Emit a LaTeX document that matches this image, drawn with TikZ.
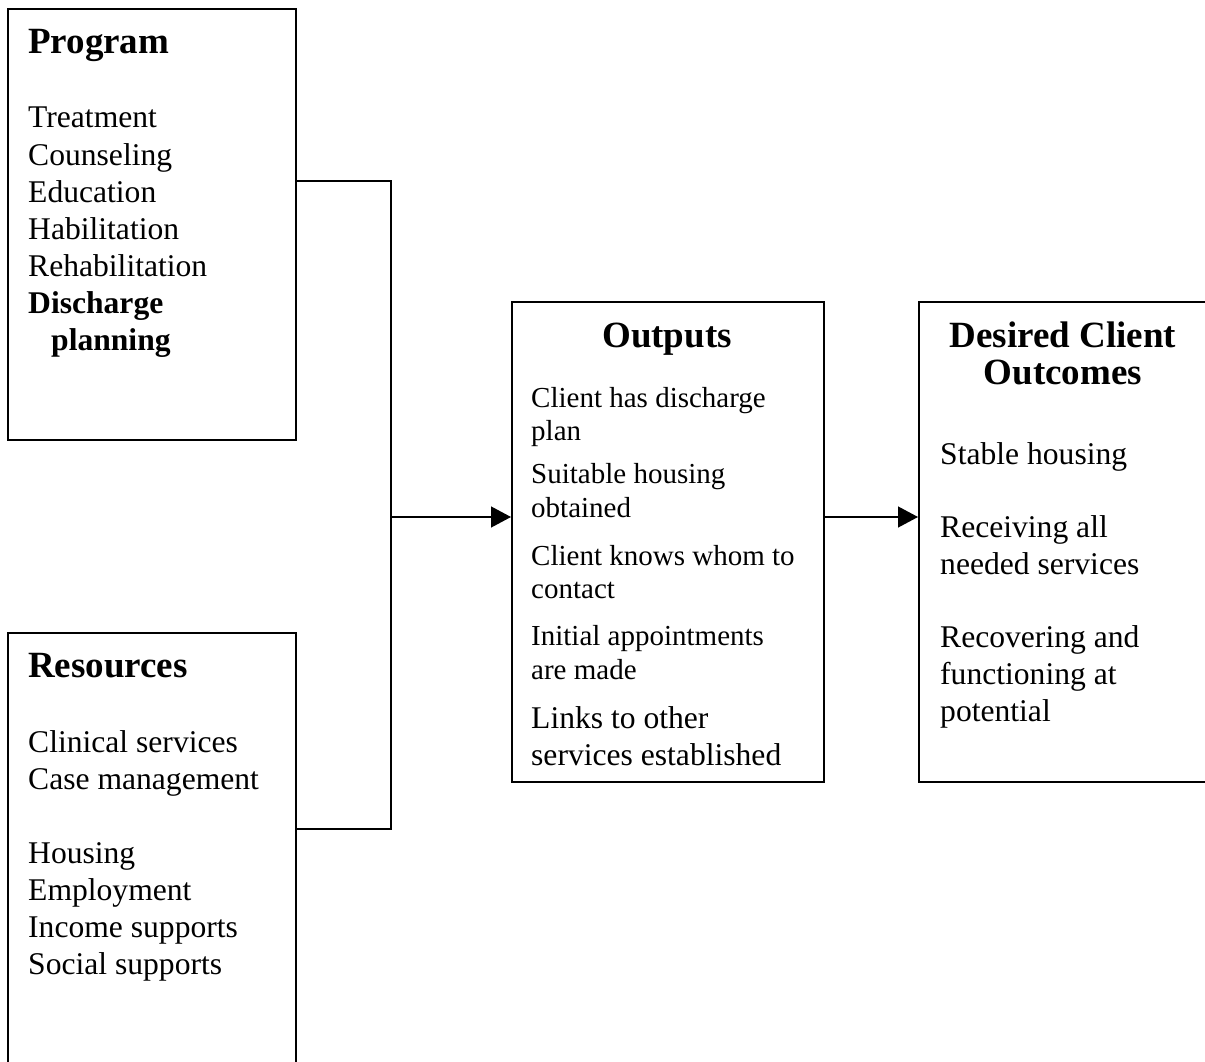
\documentclass[tikz,border=0pt]{standalone}
\usepackage{fontspec}
\setmainfont{Liberation Serif}
\usetikzlibrary{arrows.meta}
\tikzset{
  x=1pt, y=-1pt,
  boxframe/.style={draw=black, line width=1.6pt, rectangle, inner sep=0pt, anchor=north west},
  bodyL/.style={anchor=base west, inner sep=0pt, font=\fontsize{31.6}{37}\selectfont},
  bodyS/.style={anchor=base west, inner sep=0pt, font=\fontsize{29}{34}\selectfont},
  headL/.style={anchor=base west, inner sep=0pt, font=\fontsize{37}{43}\selectfont\bfseries},
  headC/.style={anchor=base, inner sep=0pt, font=\fontsize{37}{43}\selectfont\bfseries},
  bodyB/.style={anchor=base west, inner sep=0pt, font=\fontsize{31.6}{37}\selectfont\bfseries},
  link/.style={draw=black, line width=1.3pt},
  arrowlink/.style={link, -{Triangle[length=20pt, width=21pt]}},
}
\begin{document}
\begin{tikzpicture}
\useasboundingbox (0,0) rectangle (1205,1062);
\clip (0,0) rectangle (1205,1062);
\fill[white] (0,0) rectangle (1205,1062);

% boxes
\node[boxframe, minimum width=288pt, minimum height=431pt] (prog) at (7,8) {};
\node[boxframe, minimum width=288pt, minimum height=500pt] (res) at (7,632) {};
\node[boxframe, minimum width=312pt, minimum height=480pt] (outp) at (511,301) {};
\node[boxframe, minimum width=290pt, minimum height=480pt] (des) at (918,301) {};

% Program
\node[headL] (progh) at (28,54) {Program};
\node[bodyL] (p1) at (28,128) {Treatment};
\node[bodyL] (p2) at (28,165) {Counseling};
\node[bodyL] (p3) at (28,202) {Education};
\node[bodyL] (p4) at (28,239) {Habilitation};
\node[bodyL] (p5) at (28,276) {Rehabilitation};
\node[bodyB] (p6) at (28,313) {Discharge};
\node[bodyB] (p7) at (51,350) {planning};

% Resources
\node[headL] (resh) at (28,677) {Resources};
\node[bodyL] (r1) at (28,752) {Clinical services};
\node[bodyL] (r2) at (28,789) {Case management};
\node[bodyL] (r3) at (28,863) {Housing};
\node[bodyL] (r4) at (28,900) {Employment};
\node[bodyL] (r5) at (28,937) {Income supports};
\node[bodyL] (r6) at (28,974) {Social supports};

% Outputs
\node[headC] (outh) at (667,347) {Outputs};
\node[bodyS] (o1) at (531,407) {Client has discharge};
\node[bodyS] (o2) at (531,440) {plan};
\node[bodyS] (o3) at (531,483) {Suitable housing};
\node[bodyS] (o4) at (531,517) {obtained};
\node[bodyS] (o5) at (531,565) {Client knows whom to};
\node[bodyS] (o6) at (531,598) {contact};
\node[bodyS] (o7) at (531,645) {Initial appointments};
\node[bodyS] (o8) at (531,679) {are made};
\node[bodyL] (o9) at (531,728) {Links to other};
\node[bodyL] (o10) at (531,765) {services established};

% Desired Client Outcomes
\node[headC] (desh1) at (1063,347) {Desired Client};
\node[headC] (desh2) at (1063,384) {Outcomes};
\node[bodyL] (d1) at (940,464) {Stable housing};
\node[bodyL] (d2) at (940,537) {Receiving all};
\node[bodyL] (d3) at (940,574) {needed services};
\node[bodyL] (d4) at (940,647) {Recovering and};
\node[bodyL] (d5) at (940,684) {functioning at};
\node[bodyL] (d6) at (940,721) {potential};

% connectors
\coordinate (jtop) at (391,181);
\coordinate (jbot) at (391,829);
\coordinate (jmid) at (391,517);
\draw[link] (jtop -| prog.east) -- (jtop) -- (jbot) -- (jbot -| res.east);
\draw[arrowlink] (jmid) -- (jmid -| outp.west);
\draw[arrowlink] (jmid -| outp.east) -- (jmid -| des.west);
\end{tikzpicture}
\end{document}
